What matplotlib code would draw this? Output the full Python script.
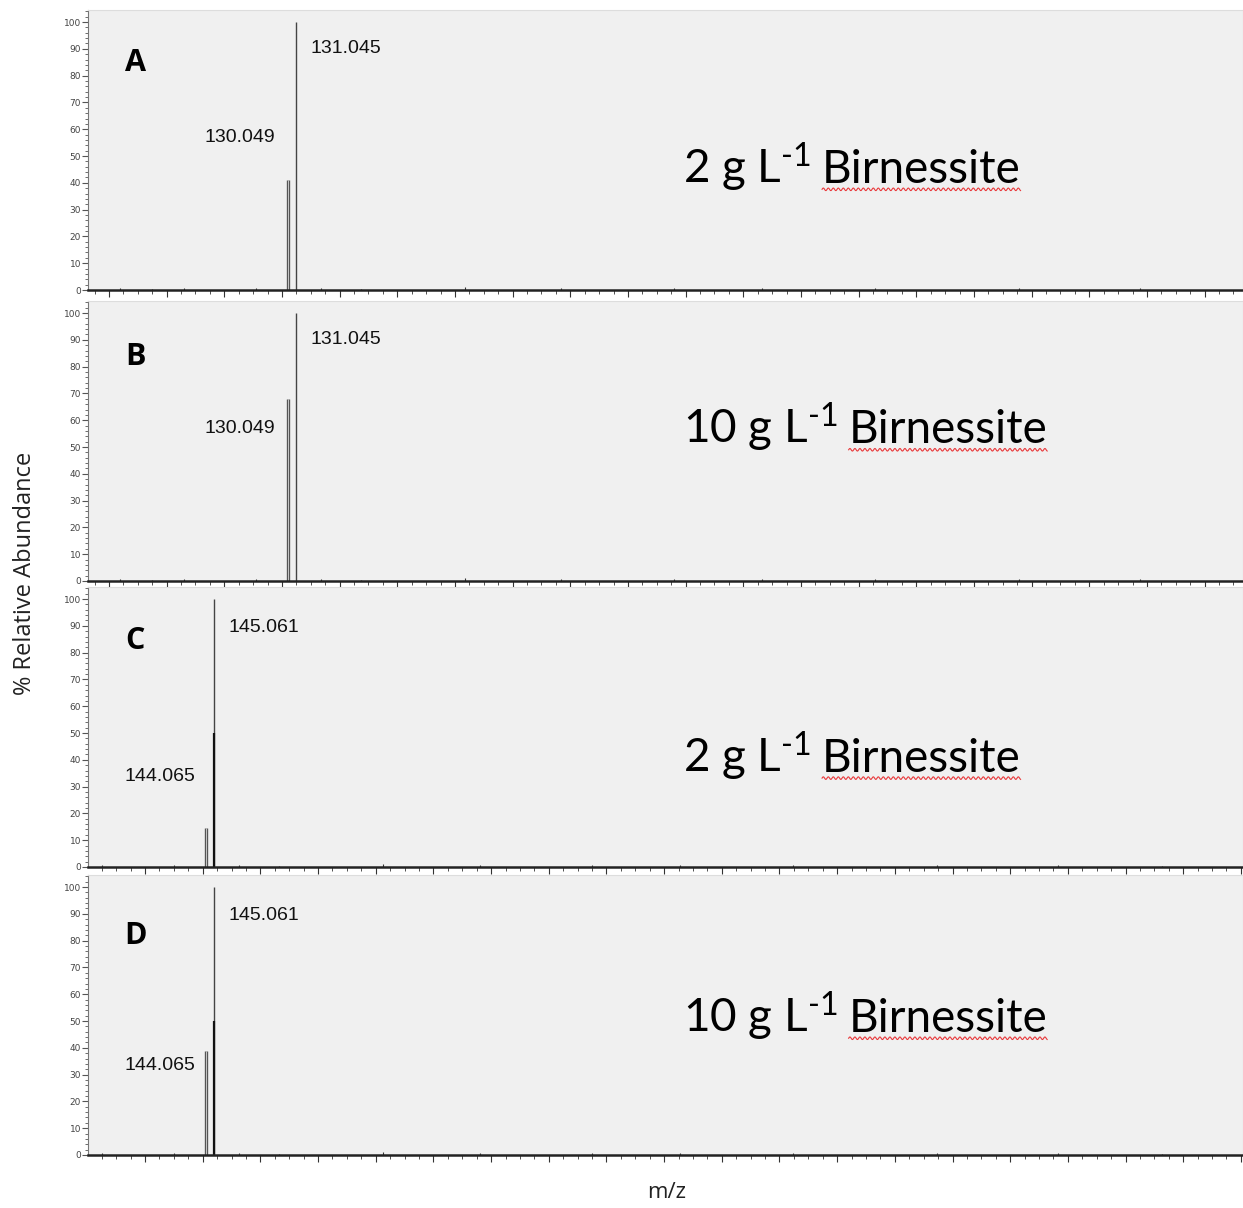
import matplotlib
matplotlib.use("Agg")
import numpy as np
import matplotlib.pyplot as plt
from matplotlib.ticker import MultipleLocator, NullFormatter

plt.rcParams['mathtext.default'] = 'regular'
plt.rcParams['mathtext.fontset'] = 'custom'
plt.rcParams['mathtext.rm'] = 'Lato'
plt.rcParams['mathtext.it'] = 'Lato'

# ---- data ----
panel_letters = ["A", "B", "C", "D"]
cond_prefix = ["2 g L$^{\\text{-1}}$", "10 g L$^{\\text{-1}}$",
               "2 g L$^{\\text{-1}}$", "10 g L$^{\\text{-1}}$"]
cond_word = ["Birnessite", "Birnessite", "Birnessite", "Birnessite"]
xranges = [(105.09, 248.9), (105.09, 248.9), (129.32, 273.1), (129.32, 273.1)]

minor_mz = [130.049, 130.049, 144.065, 144.065]
minor_int = [41, 68, 14.5, 39]
major_mz = [131.045, 131.045, 145.061, 145.061]
major_int = [100, 100, 100, 100]
overlap_int = [0, 0, 50, 50]   # darker overlapping trace at major m/z

noise_offsets = [-22, -18, -14, -5, 3, 8, 21, 33, 47, 58, 72, 90, 105, 118]
noise_int = [0.6, 0.5, 0.8, 0.6, 0.7, 0.5, 1.0, 0.8, 0.9, 0.6, 0.7, 0.6, 0.8, 0.5]

# label positions (y in % abundance)
letter_y = [84.7, 83.5, 84.5, 81.6]
major_lab_y = [90, 90, 89.4, 89.5]
minor_lab_y = [57, 57, 33.6, 33.5]
cond_y = [40, 51.4, 35.6, 46]   # text baselines

W, H = 1243, 1208
fig = plt.figure(figsize=(W / 100, H / 100), dpi=100)
fig.patch.set_facecolor("white")

bottoms_px = [290, 581, 867, 1155]
height_px = 280
left_px, right_px = 88, 1243

pairs = []
for i in range(4):
    b = bottoms_px[i]
    ax = fig.add_axes([left_px / W, 1 - b / H, (right_px - left_px) / W, height_px / H])
    ax.set_facecolor("#f0f0f0")
    ax.set_xlim(*xranges[i])
    ax.set_ylim(0, 104.5)

    # noise
    nx = [major_mz[i] + o for o in noise_offsets]
    ax.vlines(nx, 0, noise_int, color="#333333", lw=0.8)
    # peaks
    ax.vlines([minor_mz[i]], 0, [minor_int[i]], color="#555555", lw=2.4)
    ax.vlines([minor_mz[i]], 0, [minor_int[i]], color="#d8d8d8", lw=0.6)
    ax.vlines([major_mz[i]], 0, [major_int[i]], color="#444444", lw=1.0)
    if overlap_int[i] > 0:
        ax.vlines([major_mz[i]], 0, [overlap_int[i]], color="#111111", lw=1.6)

    # annotations
    ax.text(0.041, letter_y[i], panel_letters[i], transform=ax.get_yaxis_transform(),
            fontsize=22, fontweight="bold", family="Open Sans", ha="center", va="center")
    ax.text(major_mz[i] + 1.75, major_lab_y[i], f"{major_mz[i]:.3f}",
            fontsize=14, family="Liberation Sans", ha="left", va="center", color="#111111")
    if i < 2:
        ax.text(minor_mz[i] - 1.6, minor_lab_y[i], f"{minor_mz[i]:.3f}",
                fontsize=14, family="Liberation Sans", ha="right", va="center", color="#111111")
    else:
        ax.text(0.032, minor_lab_y[i], f"{minor_mz[i]:.3f}", transform=ax.get_yaxis_transform(),
                fontsize=14, family="Liberation Sans", ha="left", va="center", color="#111111")
    t1 = ax.text(0.515, cond_y[i], cond_prefix[i], transform=ax.get_yaxis_transform(),
                 fontsize=33, family="Lato", ha="left", va="baseline", color="black")
    t2 = ax.text(0.7, cond_y[i], cond_word[i], transform=ax.get_yaxis_transform(),
                 fontsize=33, family="Lato", ha="left", va="baseline", color="black")
    pairs.append((ax, t1, t2))

    # axes styling
    ax.yaxis.set_major_locator(MultipleLocator(10))
    ax.yaxis.set_minor_locator(MultipleLocator(2))
    ax.xaxis.set_major_locator(MultipleLocator(7.18))
    ax.xaxis.set_minor_locator(MultipleLocator(7.18 / 4))
    ax.xaxis.set_major_formatter(NullFormatter())
    ax.tick_params(axis="y", which="major", labelsize=6.5, length=4, width=0.8,
                   color="#555555", labelcolor="#444444", pad=1)
    ax.tick_params(axis="y", which="minor", length=2, width=0.6, color="#555555")
    ax.tick_params(axis="x", which="major", length=5, width=0.8, color="#333333")
    ax.tick_params(axis="x", which="minor", length=3, width=0.6, color="#333333")
    for s in ["top", "right"]:
        ax.spines[s].set_color("#dddddd")
        ax.spines[s].set_linewidth(0.8)
    ax.spines["left"].set_color("#777777")
    ax.spines["left"].set_linewidth(0.8)
    ax.spines["bottom"].set_color("#222222")
    ax.spines["bottom"].set_linewidth(1.8)
    ax.set_yticks([0, 10, 20, 30, 40, 50, 60, 70, 80, 90, 100])

fig.text(25 / W, 1 - 573 / H, "% Relative Abundance", rotation=90, fontsize=17,
         family="Open Sans", ha="center", va="center", color="#222222")
fig.text(667 / W, 1 - 1193 / H, "m/z", fontsize=16, family="Open Sans",
         ha="center", va="center", color="#222222")

# place "Birnessite" right after the prefix, then add the red spell-check squiggle
fig.canvas.draw()
renderer = fig.canvas.get_renderer()
for ax, t1, t2 in pairs:
    bb1 = t1.get_window_extent(renderer)
    xfrac = ax.transAxes.inverted().transform((bb1.x1 + 11, 0))[0]
    t2.set_x(xfrac)
fig.canvas.draw()
for ax, t1, t2 in pairs:
    bb = t2.get_window_extent(renderer)
    xs = np.arange(bb.x0, bb.x1, 0.5)
    base = bb.y0 + 1.5
    ys = base + 1.3 * np.sin((xs - bb.x0) * 2 * np.pi / 5.0)
    fig.add_artist(plt.Line2D(xs / W, ys / H, transform=fig.transFigure,
                              color="#e8393b", lw=0.8))

fig.savefig("out.png", dpi=100)
